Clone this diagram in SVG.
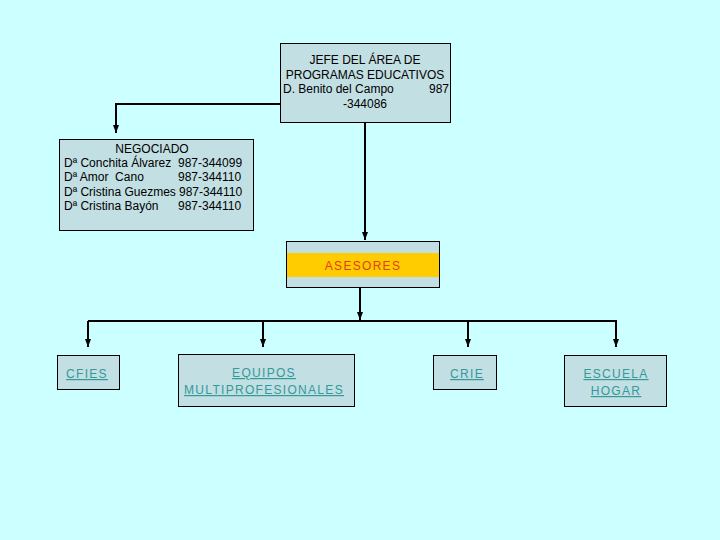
<svg xmlns="http://www.w3.org/2000/svg" width="720" height="540" viewBox="0 0 720 540">
<style>
text{font-family:"Liberation Sans",Arial,sans-serif;font-size:12px;fill:#000}
.box{fill:#C2DFE3;stroke:#000;stroke-width:1}
.link{fill:#339999;text-decoration:underline;letter-spacing:1.3px}
.c{text-anchor:middle}
.ln{fill:none;stroke:#000;stroke-width:2}
</style>
<defs>
<marker id="ah" markerWidth="8" markerHeight="6" refX="8" refY="3" orient="auto" markerUnits="userSpaceOnUse" viewBox="0 0 8 6">
<path d="M0,0 L8,3 L0,6 Z" fill="#000"/>
</marker>
</defs>
<rect width="720" height="540" fill="#CCFFFF"/>
<g id="connectors">
<path class="ln" d="M280,104 H116 V133" marker-end="url(#ah)"/>
<path class="ln" d="M365,122 V240" marker-end="url(#ah)"/>
<path class="ln" d="M360,287 V320" marker-end="url(#ah)"/>
<path class="ln" d="M88,321 H617"/>
<path class="ln" d="M88,321 V347" marker-end="url(#ah)"/>
<path class="ln" d="M263,321 V347" marker-end="url(#ah)"/>
<path class="ln" d="M468,321 V347" marker-end="url(#ah)"/>
<path class="ln" d="M616,321 V347" marker-end="url(#ah)"/>
</g>
<g id="jefe">
<rect class="box" x="280.5" y="43.5" width="170" height="79"/>
<text class="c" x="365" y="64">JEFE DEL ÁREA DE</text>
<text class="c" x="365" y="79">PROGRAMAS EDUCATIVOS</text>
<text x="283" y="93">D. Benito del Campo</text>
<text x="449" y="93" text-anchor="end">987</text>
<text class="c" x="365" y="108">-344086</text>
</g>
<g id="negociado">
<rect class="box" x="59.5" y="139.5" width="194" height="91"/>
<text class="c" x="152" y="153">NEGOCIADO</text>
<text x="64" y="167">Dª Conchita Álvarez</text><text x="178" y="167">987-344099</text>
<text x="64" y="181">Dª Amor&#160; Cano</text><text x="178" y="181">987-344110</text>
<text x="64" y="196">Dª Cristina Guezmes</text><text x="179" y="196">987-344110</text>
<text x="64" y="210">Dª Cristina Bayón</text><text x="178" y="210">987-344110</text>
</g>
<g id="asesores">
<rect class="box" x="286.5" y="241.5" width="153" height="46"/>
<rect x="287" y="253" width="152" height="24" fill="#FFCC00"/>
<text class="c" x="363" y="270" style="fill:#E0401E;letter-spacing:1.3px">ASESORES</text>
</g>
<g id="cfies">
<rect class="box" x="57.5" y="355.5" width="62" height="34"/>
<text class="link c" x="87" y="378">CFIES</text>
</g>
<g id="equipos">
<rect class="box" x="178.5" y="354.5" width="176" height="52"/>
<text class="link c" x="264" y="377">EQUIPOS</text>
<text class="link c" x="264" y="394">MULTIPROFESIONALES</text>
</g>
<g id="crie">
<rect class="box" x="433.5" y="355.5" width="63" height="34"/>
<text class="link c" x="467" y="378">CRIE</text>
</g>
<g id="escuela">
<rect class="box" x="564.5" y="355.5" width="102" height="51"/>
<text class="link c" x="616" y="378">ESCUELA</text>
<text class="link c" x="616" y="395">HOGAR</text>
</g>
</svg>
